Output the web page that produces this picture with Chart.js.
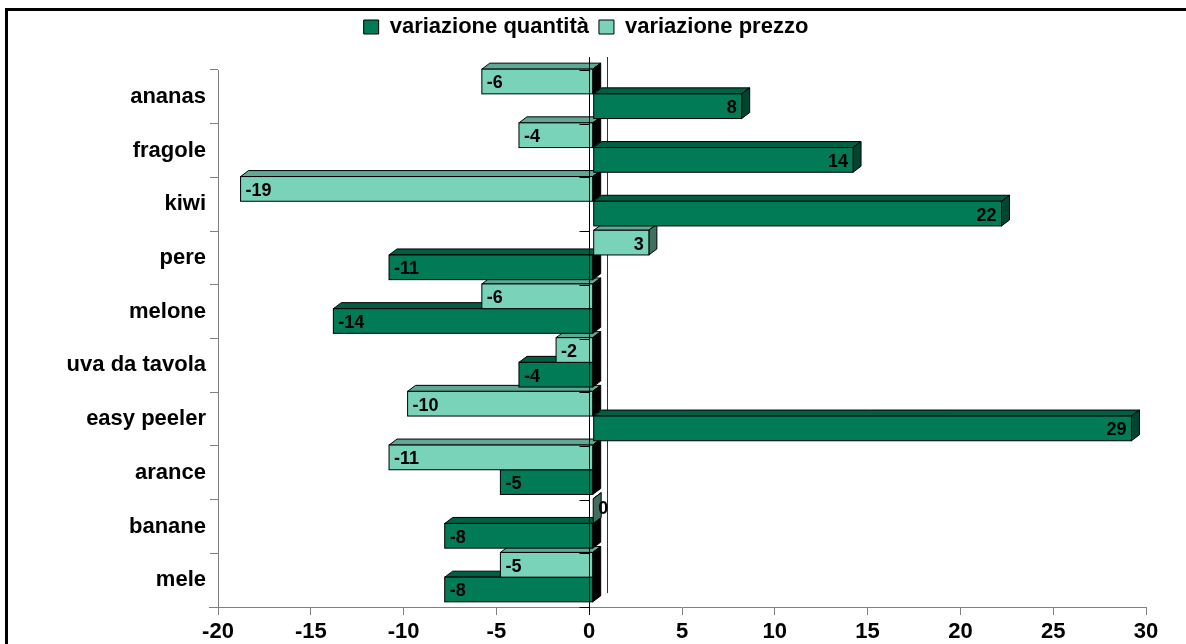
<!DOCTYPE html>
<html>
<head>
<meta charset="utf-8">
<script src="https://cdn.jsdelivr.net/npm/chart.js@4.4.0/dist/chart.umd.min.js"></script>
<style>
  html, body { margin: 0; padding: 0; background: #fff; overflow: hidden; }
  #wrap { position: relative; width: 1186px; height: 644px; }
  #frame { position: absolute; left: 5px; top: 8px; width: 1200px; height: 700px; border: 3px solid #000; box-sizing: border-box; }
  canvas { position: absolute; left: 0; top: 0; }
</style>
</head>
<body>
<div id="wrap">
  <div id="frame"></div>
  <canvas id="chart" width="1186" height="644"></canvas>
</div>
<script>
const categories = ["ananas", "fragole", "kiwi", "pere", "melone", "uva da tavola", "easy peeler", "arance", "banane", "mele"];
const variazionePrezzo = [-6, -4, -19, 3, -6, -2, -10, -11, 0, -5];
const variazioneQuantita = [8, 14, 22, -11, -14, -4, 29, -5, -8, -8];
const seriesNames = ["variazione prezzo", "variazione quantità"];
const xMin = -20, xMax = 30, xStep = 5;

const FONT = "'Liberation Sans', Arial, sans-serif";

// front / top / side shades for each series (prezzo, quantità)
const shades = [
    { front: "#78D3B8", top: "#5FA893", side: "#3F6F5F" },
    { front: "#017A56", top: "#005E42", side: "#00452F" }
];

const bars3d = {
    id: "bars3d",
    beforeDatasetsDraw(chart) {
        const { ctx, chartArea } = chart;
        const x0 = chart.scales.x.getPixelForValue(0);
        ctx.save();
        ctx.strokeStyle = "#333";
        ctx.lineWidth = 1;
        ctx.beginPath();
        ctx.moveTo(Math.round(x0 + 18) + 0.5, 57);
        ctx.lineTo(Math.round(x0 + 18) + 0.5, chartArea.bottom - 14);
        ctx.stroke();
        // x axis line runs under the category ticks too
        ctx.strokeStyle = "#808080";
        ctx.beginPath();
        ctx.moveTo(chartArea.left - 9, Math.round(chartArea.bottom) + 0.5);
        ctx.lineTo(chartArea.left, Math.round(chartArea.bottom) + 0.5);
        ctx.stroke();
        ctx.restore();
    },
    beforeDatasetDraw() {
        return false;
    },
    afterDatasetsDraw(chart) {
        const { ctx, chartArea } = chart;
        const dx = 8, dy = 6, sx = 4, sy = -3;
        const x0 = chart.scales.x.getPixelForValue(0);
        const n = categories.length;

        const face = (pts, fill) => {
            ctx.beginPath();
            ctx.moveTo(pts[0][0], pts[0][1]);
            for (let k = 1; k < pts.length; k++) ctx.lineTo(pts[k][0], pts[k][1]);
            ctx.closePath();
            ctx.fillStyle = fill;
            ctx.fill();
            ctx.stroke();
        };

        ctx.save();
        ctx.strokeStyle = "#000";
        ctx.lineWidth = 1;
        for (let i = n - 1; i >= 0; i--) {
            for (let d = 1; d >= 0; d--) {
                const el = chart.getDatasetMeta(d).data[i];
                const value = chart.data.datasets[d].data[i];
                const c = shades[d];
                const left = Math.min(el.x, el.base) + sx;
                const right = Math.max(el.x, el.base) + sx;
                const top = el.y - el.height / 2 + sy;
                const bottom = el.y + el.height / 2 + sy;
                face([[left, top], [left + dx, top - dy], [right + dx, top - dy], [right, top]], c.top);
                face([[right, top], [right + dx, top - dy], [right + dx, bottom - dy], [right, bottom]], value >= 0 ? c.side : "#000");
                if (right - left > 0.5) {
                    ctx.fillStyle = c.front;
                    ctx.fillRect(left, top, right - left, bottom - top);
                    ctx.strokeRect(left, top, right - left, bottom - top);
                }
            }
        }

        // front zero line with category ticks
        const xl = Math.round(x0) + 0.5;
        ctx.strokeStyle = "#000";
        ctx.beginPath();
        ctx.moveTo(xl, 57);
        ctx.lineTo(xl, chartArea.bottom + 8);
        const yScale = chart.scales.y;
        for (let i = 0; i <= n; i++) {
            const yb = Math.round(yScale.getPixelForValue(i - 0.5)) + 0.5;
            ctx.moveTo(xl - 10, yb);
            ctx.lineTo(xl, yb);
        }
        ctx.stroke();

        // value labels
        ctx.fillStyle = "#000";
        ctx.font = "bold 18px " + FONT;
        ctx.textBaseline = "middle";
        for (let i = 0; i < n; i++) {
            for (let d = 0; d < 2; d++) {
                const el = chart.getDatasetMeta(d).data[i];
                const value = chart.data.datasets[d].data[i];
                const left = Math.min(el.x, el.base) + sx;
                const right = Math.max(el.x, el.base) + sx;
                const yc = el.y + sy + 2;
                if (value > 0) {
                    ctx.textAlign = "right";
                    ctx.fillText(String(value), right - 5, yc);
                } else {
                    ctx.textAlign = "left";
                    ctx.fillText(String(value), left + 5, value === 0 ? yc - 4 : yc);
                }
            }
        }
        ctx.restore();
    }
};

const legendSpace = {
    id: "legendSpace",
    beforeInit(chart) {
        const fit = chart.legend.fit;
        chart.legend.fit = function () {
            fit.bind(chart.legend)();
            this.height += 22;
        };
    }
};

new Chart(document.getElementById("chart"), {
    type: "bar",
    data: {
        labels: categories,
        datasets: [
            {
                label: seriesNames[0],
                data: variazionePrezzo,
                backgroundColor: shades[0].front,
                borderColor: "#000",
                borderWidth: 1,
                categoryPercentage: 0.92,
                barPercentage: 1
            },
            {
                label: seriesNames[1],
                data: variazioneQuantita,
                backgroundColor: shades[1].front,
                borderColor: "#000",
                borderWidth: 1,
                categoryPercentage: 0.92,
                barPercentage: 1
            }
        ]
    },
    options: {
        indexAxis: "y",
        responsive: false,
        animation: false,
        layout: { padding: { top: 6, left: 26, right: 40, bottom: 0 } },
        plugins: {
            legend: {
                position: "top",
                reverse: true,
                labels: {
                    color: "#000",
                    boxWidth: 15,
                    boxHeight: 14,
                    padding: 10,
                    font: { family: FONT, size: 22, weight: "bold" }
                }
            },
            tooltip: { enabled: false }
        },
        scales: {
            x: {
                min: xMin,
                max: xMax,
                ticks: {
                    stepSize: xStep,
                    color: "#000",
                    padding: 4,
                    font: { family: FONT, size: 22, weight: "bold" }
                },
                grid: { drawOnChartArea: false, tickLength: 8, color: "#808080" },
                border: { color: "#808080" },
                afterFit(scale) { scale.height = 37; }
            },
            y: {
                ticks: {
                    color: "#000",
                    padding: 4,
                    font: { family: FONT, size: 22, weight: "bold" }
                },
                grid: { drawOnChartArea: false, tickLength: 8, color: "#808080", offset: true },
                border: { color: "#808080" },
                afterFit(scale) { scale.width = 192; }
            }
        }
    },
    plugins: [legendSpace, bars3d]
});
</script>
</body>
</html>
